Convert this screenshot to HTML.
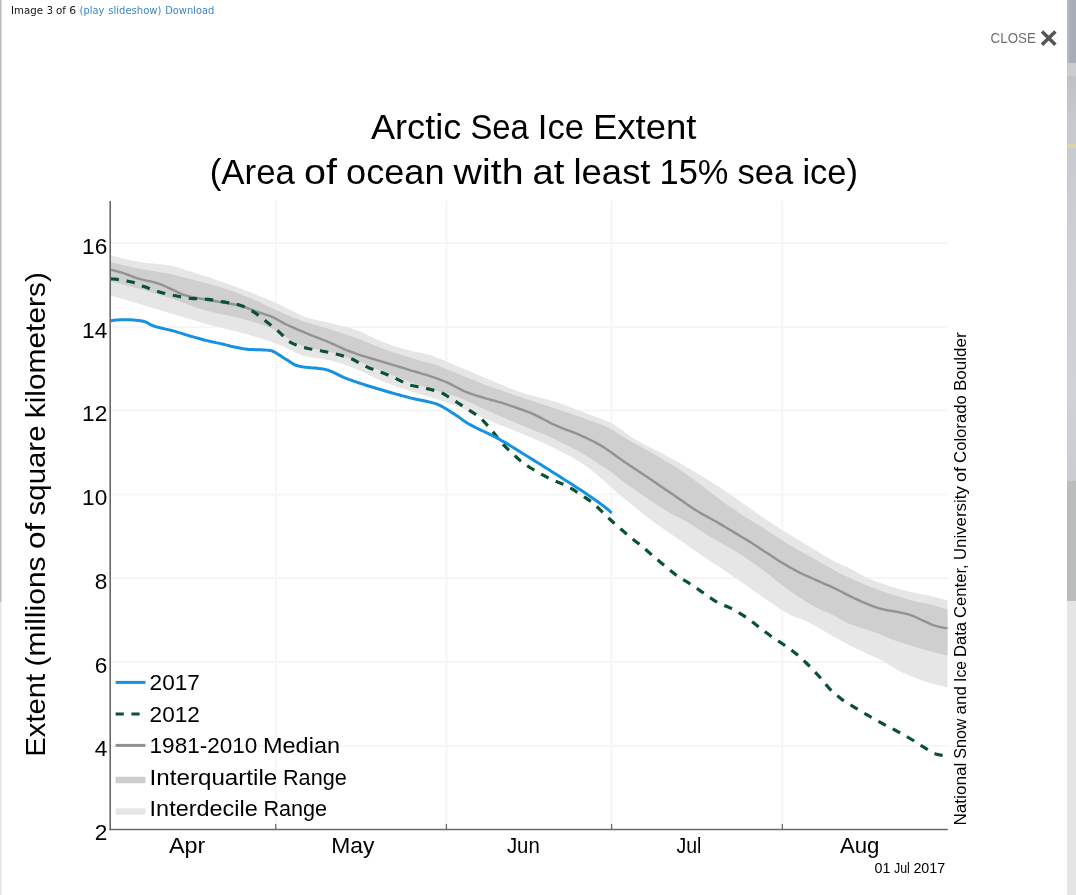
<!DOCTYPE html>
<html lang="en">
<head>
<meta charset="utf-8">
<title>Arctic Sea Ice Extent</title>
<style>
html,body{margin:0;padding:0;}
body{width:1076px;height:895px;position:relative;overflow:hidden;background:#fff;font-family:"Liberation Sans",sans-serif;}
#leftedge{position:absolute;left:0;top:0;width:2px;height:895px;background:linear-gradient(to right,#bcbcbc 0,#bcbcbc 1px,#fff 2px);}
#leftedge i{position:absolute;left:0;top:602px;width:2px;height:293px;background:linear-gradient(to right,#e4e4e4 0,#e4e4e4 1px,#fff 2px);}
#rightstrip{position:absolute;left:1067px;top:0;width:9px;height:895px;background:#e5e5e5;}
#rightstrip .a{position:absolute;left:0;top:0;width:9px;height:63px;background:linear-gradient(to right,#b4b8c0 0,#b4b8c0 2px,#a8acb6 3px);}
#rightstrip .y{position:absolute;left:0;top:144px;width:9px;height:4px;background:#ddd6ac;}
#rightstrip .b{position:absolute;left:0;top:63px;width:9px;height:418px;background:linear-gradient(#cbccce 0,#cbccce 13px,#bfc1c5 14px,#c6c9ce 60px,#cdd0d5 200px,#cfd2d7 330px,#c9ccd0 418px);}
#rightstrip .c{position:absolute;left:0;top:481px;width:9px;height:120px;background:#bbbcbc;}
#chart{position:absolute;left:0;top:0;}
</style>
</head>
<body>
<div id="leftedge"><i></i></div>
<div id="rightstrip"><div class="a"></div><div class="b"></div><div class="c"></div><div class="y"></div></div>
<svg id="chart" width="1076" height="895" viewBox="0 0 1076 895" font-family="'Liberation Sans',sans-serif">
<g stroke="#f6f6f6" stroke-width="2" fill="none"><line x1="110.2" x2="948.3" y1="745.7" y2="745.7"/><line x1="110.2" x2="948.3" y1="661.9" y2="661.9"/><line x1="110.2" x2="948.3" y1="578.1" y2="578.1"/><line x1="110.2" x2="948.3" y1="494.4" y2="494.4"/><line x1="110.2" x2="948.3" y1="410.6" y2="410.6"/><line x1="110.2" x2="948.3" y1="326.9" y2="326.9"/><line x1="110.2" x2="948.3" y1="243.1" y2="243.1"/><line x1="275.75" x2="275.75" y1="201.0" y2="829.5"/><line x1="446.4" x2="446.4" y1="201.0" y2="829.5"/><line x1="611.6" x2="611.6" y1="201.0" y2="829.5"/><line x1="782.3" x2="782.3" y1="201.0" y2="829.5"/></g>
<polygon points="110.5,255.1 113.5,256.0 116.5,256.8 119.5,257.6 122.5,258.4 125.5,259.1 128.5,259.8 131.5,260.5 134.5,261.1 137.5,261.6 140.5,262.1 143.5,262.5 146.5,262.9 149.5,263.2 152.5,263.5 155.5,263.8 158.5,264.2 161.5,264.5 164.5,264.8 167.5,265.3 170.5,265.7 173.5,266.3 176.5,267.1 179.5,267.9 182.5,268.9 185.5,269.9 188.5,270.9 191.5,271.8 194.5,272.8 197.5,273.7 200.5,274.7 203.5,275.7 206.5,276.6 209.5,277.6 212.5,278.6 215.5,279.7 218.5,280.7 221.5,281.7 224.5,282.8 227.5,283.8 230.5,284.9 233.5,286.0 236.5,287.1 239.5,288.2 242.5,289.3 245.5,290.5 248.5,291.6 251.5,292.8 254.5,294.0 257.5,295.2 260.5,296.4 263.5,297.6 266.5,298.9 269.5,300.1 272.5,301.4 275.5,302.7 278.5,304.0 281.5,305.4 284.5,306.9 287.5,308.4 290.5,310.0 293.5,311.6 296.5,313.1 299.5,314.6 302.5,315.9 305.5,316.9 308.5,317.9 311.5,318.7 314.5,319.5 317.5,320.2 320.5,320.9 323.5,321.6 326.5,322.3 329.5,323.0 332.5,323.8 335.5,324.5 338.5,325.2 341.5,325.9 344.5,326.7 347.5,327.5 350.5,328.3 353.5,329.2 356.5,330.2 359.5,331.3 362.5,332.6 365.5,334.1 368.5,335.5 371.5,337.0 374.5,338.5 377.5,339.8 380.5,341.1 383.5,342.2 386.5,343.3 389.5,344.4 392.5,345.4 395.5,346.4 398.5,347.4 401.5,348.3 404.5,349.2 407.5,350.0 410.5,350.7 413.5,351.4 416.5,352.0 419.5,352.7 422.5,353.3 425.5,354.0 428.5,354.8 431.5,355.6 434.5,356.6 437.5,357.7 440.5,358.9 443.5,360.1 446.5,361.4 449.5,362.7 452.5,364.0 455.5,365.2 458.5,366.5 461.5,367.7 464.5,369.0 467.5,370.3 470.5,371.6 473.5,372.9 476.5,374.2 479.5,375.5 482.5,376.8 485.5,378.0 488.5,379.3 491.5,380.6 494.5,381.8 497.5,383.1 500.5,384.4 503.5,385.6 506.5,386.9 509.5,388.1 512.5,389.3 515.5,390.4 518.5,391.5 521.5,392.5 524.5,393.5 527.5,394.4 530.5,395.2 533.5,396.0 536.5,396.8 539.5,397.5 542.5,398.3 545.5,399.0 548.5,399.8 551.5,400.7 554.5,401.6 557.5,402.5 560.5,403.5 563.5,404.6 566.5,405.7 569.5,406.8 572.5,408.0 575.5,409.2 578.5,410.4 581.5,411.6 584.5,412.7 587.5,413.9 590.5,415.0 593.5,416.1 596.5,417.1 599.5,418.2 602.5,419.3 605.5,420.4 608.5,421.7 611.5,423.1 614.5,424.8 617.5,426.8 620.5,429.0 623.5,431.3 626.5,433.6 629.5,435.8 632.5,437.8 635.5,439.6 638.5,441.3 641.5,442.9 644.5,444.5 647.5,446.0 650.5,447.5 653.5,449.0 656.5,450.5 659.5,452.1 662.5,453.6 665.5,455.2 668.5,456.8 671.5,458.5 674.5,460.1 677.5,461.8 680.5,463.5 683.5,465.2 686.5,466.9 689.5,468.7 692.5,470.4 695.5,472.2 698.5,474.0 701.5,475.9 704.5,477.7 707.5,479.6 710.5,481.5 713.5,483.4 716.5,485.4 719.5,487.3 722.5,489.3 725.5,491.3 728.5,493.3 731.5,495.3 734.5,497.4 737.5,499.4 740.5,501.5 743.5,503.7 746.5,505.8 749.5,508.0 752.5,510.1 755.5,512.3 758.5,514.4 761.5,516.5 764.5,518.6 767.5,520.6 770.5,522.6 773.5,524.6 776.5,526.6 779.5,528.5 782.5,530.4 785.5,532.2 788.5,534.1 791.5,535.8 794.5,537.6 797.5,539.4 800.5,541.1 803.5,542.9 806.5,544.8 809.5,546.6 812.5,548.4 815.5,550.2 818.5,552.0 821.5,553.9 824.5,555.7 827.5,557.6 830.5,559.3 833.5,561.0 836.5,562.5 839.5,563.8 842.5,565.1 845.5,566.4 848.5,567.8 851.5,569.3 854.5,570.9 857.5,572.7 860.5,574.4 863.5,576.1 866.5,577.6 869.5,578.9 872.5,580.1 875.5,581.2 878.5,582.3 881.5,583.3 884.5,584.4 887.5,585.4 890.5,586.4 893.5,587.4 896.5,588.3 899.5,589.1 902.5,589.9 905.5,590.7 908.5,591.4 911.5,592.1 914.5,592.8 917.5,593.4 920.5,594.0 923.5,594.6 926.5,595.2 929.5,595.8 932.5,596.5 935.5,597.2 938.5,597.9 941.5,598.7 944.5,599.5 947.5,600.3 947.5,687.4 944.5,686.8 941.5,686.1 938.5,685.3 935.5,684.5 932.5,683.7 929.5,682.8 926.5,681.9 923.5,680.9 920.5,679.8 917.5,678.7 914.5,677.6 911.5,676.4 908.5,675.1 905.5,673.8 902.5,672.4 899.5,670.9 896.5,669.4 893.5,667.7 890.5,665.8 887.5,663.9 884.5,662.0 881.5,660.3 878.5,658.8 875.5,657.4 872.5,656.0 869.5,654.7 866.5,653.4 863.5,652.1 860.5,650.6 857.5,649.2 854.5,647.7 851.5,646.2 848.5,644.7 845.5,643.1 842.5,641.5 839.5,639.8 836.5,638.1 833.5,636.4 830.5,634.7 827.5,633.0 824.5,631.2 821.5,629.5 818.5,627.8 815.5,626.1 812.5,624.5 809.5,622.8 806.5,621.2 803.5,619.9 800.5,618.8 797.5,618.1 794.5,617.0 791.5,615.6 788.5,614.0 785.5,612.2 782.5,610.4 779.5,608.6 776.5,606.6 773.5,604.6 770.5,602.5 767.5,600.3 764.5,598.2 761.5,596.2 758.5,594.1 755.5,592.0 752.5,589.9 749.5,587.8 746.5,585.6 743.5,583.5 740.5,581.4 737.5,579.4 734.5,577.2 731.5,575.1 728.5,573.0 725.5,571.0 722.5,569.0 719.5,567.0 716.5,565.1 713.5,563.2 710.5,561.3 707.5,559.3 704.5,557.3 701.5,555.2 698.5,553.1 695.5,551.0 692.5,548.8 689.5,546.7 686.5,544.6 683.5,542.6 680.5,540.6 677.5,538.6 674.5,536.6 671.5,534.5 668.5,532.5 665.5,530.4 662.5,528.2 659.5,526.1 656.5,523.9 653.5,521.7 650.5,519.5 647.5,517.3 644.5,514.9 641.5,512.5 638.5,510.0 635.5,507.5 632.5,505.2 629.5,502.8 626.5,500.5 623.5,498.1 620.5,495.6 617.5,493.0 614.5,490.4 611.5,487.7 608.5,485.0 605.5,482.3 602.5,479.6 599.5,476.9 596.5,474.3 593.5,471.8 590.5,469.4 587.5,467.1 584.5,465.0 581.5,463.0 578.5,461.2 575.5,459.4 572.5,457.6 569.5,456.0 566.5,454.4 563.5,452.8 560.5,451.3 557.5,449.8 554.5,448.3 551.5,446.8 548.5,445.4 545.5,444.0 542.5,442.6 539.5,441.2 536.5,439.9 533.5,438.6 530.5,437.3 527.5,436.0 524.5,434.8 521.5,433.5 518.5,432.2 515.5,431.0 512.5,429.8 509.5,428.7 506.5,427.5 503.5,426.3 500.5,425.2 497.5,424.0 494.5,422.8 491.5,421.6 488.5,420.3 485.5,419.0 482.5,417.6 479.5,416.2 476.5,414.8 473.5,413.4 470.5,412.0 467.5,410.5 464.5,409.2 461.5,407.8 458.5,406.6 455.5,405.4 452.5,404.3 449.5,403.2 446.5,402.2 443.5,401.3 440.5,400.3 437.5,399.4 434.5,398.5 431.5,397.5 428.5,396.6 425.5,395.7 422.5,394.8 419.5,393.9 416.5,393.0 413.5,392.1 410.5,391.2 407.5,390.3 404.5,389.3 401.5,388.3 398.5,387.3 395.5,386.2 392.5,385.1 389.5,384.0 386.5,382.8 383.5,381.7 380.5,380.5 377.5,379.2 374.5,377.8 371.5,376.3 368.5,374.8 365.5,373.3 362.5,371.9 359.5,370.5 356.5,369.2 353.5,368.1 350.5,366.9 347.5,365.8 344.5,364.7 341.5,363.6 338.5,362.6 335.5,361.7 332.5,360.9 329.5,360.2 326.5,359.7 323.5,359.2 320.5,358.7 317.5,358.3 314.5,357.9 311.5,357.5 308.5,356.9 305.5,356.3 302.5,355.4 299.5,354.3 296.5,352.9 293.5,351.4 290.5,349.9 287.5,348.4 284.5,347.1 281.5,345.8 278.5,344.6 275.5,343.4 272.5,342.3 269.5,341.2 266.5,340.2 263.5,339.3 260.5,338.3 257.5,337.4 254.5,336.5 251.5,335.7 248.5,334.8 245.5,334.0 242.5,333.2 239.5,332.3 236.5,331.5 233.5,330.8 230.5,330.0 227.5,329.3 224.5,328.5 221.5,327.8 218.5,327.1 215.5,326.4 212.5,325.6 209.5,324.9 206.5,324.1 203.5,323.2 200.5,322.4 197.5,321.5 194.5,320.6 191.5,319.7 188.5,318.8 185.5,317.9 182.5,317.0 179.5,316.1 176.5,315.2 173.5,314.3 170.5,313.3 167.5,312.4 164.5,311.5 161.5,310.6 158.5,309.7 155.5,308.8 152.5,307.9 149.5,307.0 146.5,306.1 143.5,305.2 140.5,304.3 137.5,303.4 134.5,302.5 131.5,301.6 128.5,300.7 125.5,299.8 122.5,298.9 119.5,298.1 116.5,297.2 113.5,296.3 110.5,295.4" fill="#e6e6e6"/><polygon points="110.5,261.8 113.5,262.6 116.5,263.4 119.5,264.1 122.5,264.9 125.5,265.6 128.5,266.3 131.5,267.0 134.5,267.7 137.5,268.3 140.5,268.9 143.5,269.5 146.5,270.0 149.5,270.5 152.5,271.0 155.5,271.5 158.5,271.9 161.5,272.4 164.5,273.0 167.5,273.5 170.5,274.1 173.5,274.7 176.5,275.4 179.5,276.2 182.5,276.9 185.5,277.7 188.5,278.5 191.5,279.3 194.5,280.1 197.5,280.8 200.5,281.6 203.5,282.4 206.5,283.2 209.5,284.0 212.5,284.9 215.5,285.7 218.5,286.6 221.5,287.5 224.5,288.5 227.5,289.5 230.5,290.5 233.5,291.6 236.5,292.7 239.5,293.8 242.5,295.0 245.5,296.2 248.5,297.4 251.5,298.6 254.5,299.9 257.5,301.1 260.5,302.5 263.5,303.9 266.5,305.4 269.5,306.9 272.5,308.3 275.5,309.8 278.5,311.1 281.5,312.4 284.5,313.7 287.5,315.0 290.5,316.2 293.5,317.5 296.5,318.6 299.5,319.8 302.5,320.9 305.5,321.9 308.5,322.9 311.5,323.9 314.5,324.8 317.5,325.6 320.5,326.5 323.5,327.3 326.5,328.2 329.5,329.1 332.5,330.1 335.5,331.1 338.5,332.0 341.5,333.0 344.5,334.0 347.5,335.0 350.5,336.1 353.5,337.1 356.5,338.2 359.5,339.3 362.5,340.5 365.5,341.8 368.5,343.0 371.5,344.2 374.5,345.5 377.5,346.6 380.5,347.8 383.5,348.8 386.5,349.9 389.5,350.9 392.5,351.9 395.5,352.9 398.5,353.9 401.5,354.9 404.5,355.8 407.5,356.8 410.5,357.7 413.5,358.7 416.5,359.6 419.5,360.4 422.5,361.2 425.5,361.9 428.5,362.6 431.5,363.5 434.5,364.5 437.5,365.6 440.5,366.7 443.5,367.9 446.5,369.1 449.5,370.4 452.5,371.6 455.5,372.8 458.5,374.0 461.5,375.2 464.5,376.4 467.5,377.6 470.5,378.9 473.5,380.1 476.5,381.3 479.5,382.5 482.5,383.7 485.5,384.9 488.5,386.0 491.5,387.1 494.5,388.2 497.5,389.3 500.5,390.3 503.5,391.4 506.5,392.4 509.5,393.5 512.5,394.5 515.5,395.5 518.5,396.5 521.5,397.5 524.5,398.5 527.5,399.5 530.5,400.5 533.5,401.5 536.5,402.4 539.5,403.4 542.5,404.3 545.5,405.3 548.5,406.3 551.5,407.2 554.5,408.2 557.5,409.2 560.5,410.3 563.5,411.3 566.5,412.3 569.5,413.3 572.5,414.4 575.5,415.4 578.5,416.5 581.5,417.6 584.5,418.6 587.5,419.7 590.5,420.8 593.5,421.8 596.5,422.9 599.5,423.9 602.5,425.0 605.5,426.2 608.5,427.5 611.5,429.0 614.5,430.9 617.5,433.0 620.5,435.1 623.5,437.0 626.5,438.8 629.5,440.5 632.5,442.2 635.5,443.9 638.5,445.6 641.5,447.3 644.5,448.9 647.5,450.5 650.5,452.2 653.5,453.8 656.5,455.5 659.5,457.3 662.5,459.1 665.5,460.9 668.5,462.7 671.5,464.6 674.5,466.4 677.5,468.4 680.5,470.3 683.5,472.3 686.5,474.4 689.5,476.5 692.5,478.7 695.5,480.9 698.5,483.1 701.5,485.3 704.5,487.6 707.5,489.9 710.5,492.2 713.5,494.6 716.5,496.9 719.5,499.2 722.5,501.4 725.5,503.6 728.5,505.7 731.5,507.8 734.5,509.8 737.5,511.8 740.5,513.8 743.5,515.8 746.5,517.7 749.5,519.6 752.5,521.4 755.5,523.3 758.5,525.2 761.5,527.0 764.5,528.9 767.5,530.9 770.5,532.8 773.5,534.8 776.5,536.7 779.5,538.7 782.5,540.6 785.5,542.5 788.5,544.4 791.5,546.2 794.5,547.9 797.5,549.6 800.5,551.3 803.5,553.0 806.5,554.6 809.5,556.3 812.5,557.9 815.5,559.6 818.5,561.3 821.5,563.0 824.5,564.7 827.5,566.4 830.5,568.1 833.5,569.8 836.5,571.4 839.5,572.9 842.5,574.4 845.5,575.9 848.5,577.3 851.5,578.7 854.5,580.0 857.5,581.4 860.5,582.6 863.5,583.9 866.5,585.2 869.5,586.4 872.5,587.6 875.5,588.7 878.5,589.9 881.5,590.9 884.5,592.0 887.5,593.0 890.5,593.9 893.5,594.9 896.5,595.8 899.5,596.8 902.5,597.7 905.5,598.7 908.5,599.6 911.5,600.4 914.5,601.2 917.5,601.9 920.5,602.4 923.5,603.0 926.5,603.6 929.5,604.2 932.5,604.9 935.5,605.7 938.5,606.6 941.5,607.5 944.5,608.5 947.5,609.5 947.5,655.6 944.5,654.9 941.5,654.2 938.5,653.4 935.5,652.7 932.5,651.9 929.5,651.0 926.5,650.2 923.5,649.3 920.5,648.4 917.5,647.4 914.5,646.5 911.5,645.6 908.5,644.8 905.5,643.9 902.5,643.0 899.5,642.0 896.5,641.0 893.5,639.9 890.5,638.7 887.5,637.4 884.5,636.1 881.5,634.9 878.5,633.8 875.5,632.8 872.5,631.8 869.5,630.7 866.5,629.7 863.5,628.7 860.5,627.7 857.5,626.7 854.5,625.7 851.5,624.7 848.5,623.5 845.5,622.2 842.5,620.6 839.5,618.9 836.5,617.1 833.5,615.5 830.5,614.0 827.5,612.6 824.5,611.2 821.5,609.9 818.5,608.5 815.5,607.0 812.5,605.3 809.5,603.6 806.5,601.9 803.5,600.0 800.5,598.1 797.5,596.2 794.5,594.1 791.5,592.1 788.5,590.0 785.5,587.8 782.5,585.5 779.5,583.1 776.5,580.7 773.5,578.3 770.5,575.8 767.5,573.5 764.5,571.2 761.5,569.0 758.5,566.8 755.5,564.6 752.5,562.5 749.5,560.4 746.5,558.3 743.5,556.3 740.5,554.4 737.5,552.6 734.5,550.8 731.5,549.1 728.5,547.5 725.5,545.8 722.5,544.1 719.5,542.3 716.5,540.5 713.5,538.8 710.5,537.0 707.5,535.1 704.5,533.2 701.5,531.3 698.5,529.2 695.5,527.2 692.5,525.2 689.5,523.3 686.5,521.5 683.5,519.9 680.5,518.4 677.5,516.9 674.5,515.4 671.5,513.8 668.5,512.1 665.5,510.3 662.5,508.4 659.5,506.5 656.5,504.6 653.5,502.6 650.5,500.5 647.5,498.5 644.5,496.4 641.5,494.4 638.5,492.3 635.5,490.2 632.5,488.1 629.5,486.0 626.5,483.9 623.5,481.7 620.5,479.4 617.5,477.1 614.5,474.7 611.5,472.4 608.5,470.2 605.5,468.2 602.5,466.3 599.5,464.4 596.5,462.5 593.5,460.5 590.5,458.5 587.5,456.5 584.5,454.7 581.5,453.0 578.5,451.3 575.5,449.6 572.5,448.0 569.5,446.4 566.5,444.9 563.5,443.4 560.5,441.9 557.5,440.5 554.5,439.1 551.5,437.7 548.5,436.4 545.5,435.1 542.5,433.8 539.5,432.6 536.5,431.4 533.5,430.2 530.5,428.9 527.5,427.7 524.5,426.5 521.5,425.2 518.5,423.9 515.5,422.6 512.5,421.4 509.5,420.1 506.5,418.8 503.5,417.6 500.5,416.3 497.5,415.0 494.5,413.7 491.5,412.4 488.5,411.1 485.5,409.8 482.5,408.4 479.5,406.9 476.5,405.5 473.5,404.0 470.5,402.6 467.5,401.2 464.5,399.8 461.5,398.5 458.5,397.3 455.5,396.2 452.5,395.2 449.5,394.2 446.5,393.3 443.5,392.5 440.5,391.7 437.5,390.9 434.5,390.0 431.5,389.1 428.5,388.2 425.5,387.2 422.5,386.3 419.5,385.3 416.5,384.3 413.5,383.3 410.5,382.2 407.5,381.2 404.5,380.1 401.5,378.9 398.5,377.7 395.5,376.5 392.5,375.3 389.5,374.0 386.5,372.8 383.5,371.6 380.5,370.4 377.5,369.2 374.5,367.9 371.5,366.7 368.5,365.5 365.5,364.3 362.5,363.1 359.5,361.9 356.5,360.8 353.5,359.7 350.5,358.6 347.5,357.5 344.5,356.4 341.5,355.4 338.5,354.4 335.5,353.4 332.5,352.6 329.5,351.8 326.5,351.2 323.5,350.6 320.5,350.1 317.5,349.6 314.5,349.1 311.5,348.5 308.5,347.9 305.5,347.1 302.5,346.1 299.5,344.8 296.5,343.2 293.5,341.5 290.5,339.7 287.5,337.9 284.5,336.1 281.5,334.2 278.5,332.3 275.5,330.4 272.5,328.9 269.5,327.6 266.5,326.4 263.5,325.3 260.5,324.2 257.5,323.2 254.5,322.3 251.5,321.4 248.5,320.6 245.5,319.7 242.5,318.9 239.5,318.1 236.5,317.4 233.5,316.6 230.5,316.0 227.5,315.3 224.5,314.7 221.5,314.1 218.5,313.5 215.5,312.8 212.5,312.2 209.5,311.4 206.5,310.7 203.5,309.8 200.5,308.9 197.5,307.9 194.5,306.9 191.5,305.8 188.5,304.7 185.5,303.5 182.5,302.4 179.5,301.3 176.5,300.2 173.5,299.2 170.5,298.2 167.5,297.3 164.5,296.3 161.5,295.4 158.5,294.5 155.5,293.6 152.5,292.7 149.5,291.9 146.5,291.0 143.5,290.1 140.5,289.3 137.5,288.4 134.5,287.6 131.5,286.7 128.5,285.9 125.5,285.1 122.5,284.3 119.5,283.5 116.5,282.7 113.5,281.9 110.5,281.1" fill="#cfcfcf"/>
<polyline points="110.5,269.7 113.5,270.4 116.5,271.2 119.5,272.0 122.5,272.9 125.5,273.9 128.5,275.0 131.5,276.2 134.5,277.3 137.5,278.3 140.5,279.2 143.5,279.9 146.5,280.6 149.5,281.2 152.5,281.9 155.5,282.7 158.5,283.6 161.5,284.7 164.5,286.0 167.5,287.4 170.5,288.8 173.5,290.2 176.5,291.6 179.5,293.1 182.5,294.4 185.5,295.4 188.5,296.2 191.5,296.9 194.5,297.5 197.5,298.1 200.5,298.6 203.5,299.1 206.5,299.7 209.5,300.2 212.5,300.7 215.5,301.2 218.5,301.7 221.5,302.3 224.5,302.8 227.5,303.3 230.5,303.7 233.5,304.3 236.5,304.8 239.5,305.5 242.5,306.4 245.5,307.4 248.5,308.5 251.5,309.7 254.5,310.8 257.5,311.9 260.5,312.9 263.5,313.8 266.5,314.8 269.5,315.9 272.5,317.1 275.5,318.5 278.5,320.2 281.5,321.9 284.5,323.6 287.5,325.0 290.5,326.4 293.5,327.7 296.5,329.1 299.5,330.3 302.5,331.6 305.5,332.9 308.5,334.1 311.5,335.3 314.5,336.5 317.5,337.7 320.5,338.8 323.5,340.0 326.5,341.2 329.5,342.5 332.5,343.8 335.5,345.1 338.5,346.5 341.5,347.9 344.5,349.3 347.5,350.5 350.5,351.6 353.5,352.7 356.5,353.8 359.5,354.8 362.5,355.8 365.5,356.7 368.5,357.7 371.5,358.5 374.5,359.4 377.5,360.3 380.5,361.2 383.5,362.1 386.5,363.0 389.5,363.9 392.5,364.8 395.5,365.7 398.5,366.6 401.5,367.5 404.5,368.4 407.5,369.3 410.5,370.3 413.5,371.1 416.5,372.0 419.5,372.9 422.5,373.8 425.5,374.7 428.5,375.6 431.5,376.6 434.5,377.7 437.5,378.7 440.5,379.8 443.5,381.0 446.5,382.2 449.5,383.6 452.5,385.1 455.5,386.7 458.5,388.3 461.5,389.9 464.5,391.3 467.5,392.5 470.5,393.6 473.5,394.6 476.5,395.6 479.5,396.5 482.5,397.4 485.5,398.3 488.5,399.2 491.5,400.0 494.5,400.7 497.5,401.6 500.5,402.4 503.5,403.3 506.5,404.3 509.5,405.3 512.5,406.3 515.5,407.4 518.5,408.5 521.5,409.5 524.5,410.6 527.5,411.7 530.5,412.8 533.5,414.2 536.5,415.6 539.5,417.1 542.5,418.7 545.5,420.3 548.5,421.9 551.5,423.5 554.5,424.9 557.5,426.2 560.5,427.5 563.5,428.6 566.5,429.8 569.5,430.9 572.5,432.0 575.5,433.2 578.5,434.4 581.5,435.8 584.5,437.1 587.5,438.5 590.5,440.0 593.5,441.5 596.5,443.1 599.5,444.8 602.5,446.5 605.5,448.4 608.5,450.5 611.5,452.6 614.5,454.8 617.5,457.0 620.5,459.1 623.5,461.2 626.5,463.2 629.5,465.2 632.5,467.2 635.5,469.2 638.5,471.2 641.5,473.3 644.5,475.3 647.5,477.3 650.5,479.3 653.5,481.3 656.5,483.3 659.5,485.4 662.5,487.4 665.5,489.4 668.5,491.4 671.5,493.5 674.5,495.6 677.5,497.7 680.5,499.8 683.5,501.8 686.5,503.9 689.5,506.0 692.5,508.0 695.5,509.9 698.5,511.8 701.5,513.6 704.5,515.3 707.5,516.9 710.5,518.5 713.5,520.2 716.5,521.8 719.5,523.6 722.5,525.4 725.5,527.2 728.5,529.0 731.5,530.8 734.5,532.6 737.5,534.4 740.5,536.2 743.5,538.0 746.5,539.8 749.5,541.6 752.5,543.5 755.5,545.4 758.5,547.4 761.5,549.4 764.5,551.4 767.5,553.3 770.5,555.3 773.5,557.3 776.5,559.2 779.5,561.2 782.5,563.0 785.5,564.8 788.5,566.6 791.5,568.3 794.5,569.9 797.5,571.5 800.5,573.1 803.5,574.5 806.5,575.9 809.5,577.2 812.5,578.5 815.5,579.8 818.5,581.1 821.5,582.5 824.5,583.8 827.5,585.1 830.5,586.4 833.5,587.8 836.5,589.3 839.5,590.8 842.5,592.3 845.5,593.9 848.5,595.4 851.5,596.8 854.5,598.3 857.5,599.7 860.5,601.1 863.5,602.4 866.5,603.7 869.5,604.9 872.5,606.1 875.5,607.2 878.5,608.2 881.5,609.0 884.5,609.6 887.5,610.2 890.5,610.7 893.5,611.3 896.5,611.8 899.5,612.4 902.5,613.0 905.5,613.6 908.5,614.4 911.5,615.3 914.5,616.6 917.5,618.0 920.5,619.5 923.5,620.8 926.5,622.2 929.5,623.6 932.5,624.8 935.5,625.8 938.5,626.6 941.5,627.3 944.5,627.9 947.5,628.3" fill="none" stroke="#929292" stroke-width="2.4" stroke-linejoin="round"/><polyline points="110.5,278.9 113.0,279.0 115.5,279.2 118.0,279.5 120.5,279.8 123.0,280.2 125.5,280.7 128.0,281.2 130.5,281.7 133.0,282.3 135.5,283.2 138.0,284.2 140.5,285.2 143.0,286.2 145.5,287.1 148.0,288.0 150.5,289.0 153.0,289.9 155.5,290.8 158.0,291.6 160.5,292.4 163.0,293.0 165.5,293.6 168.0,294.2 170.5,294.7 173.0,295.2 175.5,295.7 178.0,296.2 180.5,296.8 183.0,297.3 185.5,297.8 188.0,298.1 190.5,298.4 193.0,298.6 195.5,298.7 198.0,298.8 200.5,298.9 203.0,299.0 205.5,299.1 208.0,299.3 210.5,299.6 213.0,300.0 215.5,300.4 218.0,300.9 220.5,301.4 223.0,301.8 225.5,302.2 228.0,302.7 230.5,303.1 233.0,303.5 235.5,304.0 238.0,304.6 240.5,305.4 243.0,306.3 245.5,307.5 248.0,308.8 250.6,310.2 253.1,311.6 255.6,313.3 258.1,315.1 260.6,317.0 263.1,319.0 265.6,321.0 268.1,323.0 270.6,325.0 273.1,327.0 275.6,329.0 278.1,331.1 280.6,333.4 283.1,335.9 285.6,338.4 288.1,340.7 290.6,342.3 293.1,343.6 295.6,344.7 298.1,345.7 300.6,346.5 303.1,347.3 305.6,347.9 308.1,348.5 310.6,349.0 313.1,349.4 315.6,349.9 318.1,350.3 320.6,350.8 323.1,351.3 325.6,351.7 328.1,352.2 330.6,352.7 333.1,353.3 335.6,353.9 338.1,354.5 340.6,355.2 343.1,355.9 345.6,356.7 348.1,357.5 350.6,358.5 353.1,359.5 355.6,360.8 358.1,362.3 360.6,363.7 363.1,365.1 365.6,366.3 368.1,367.4 370.6,368.4 373.1,369.3 375.6,370.2 378.1,371.1 380.6,372.1 383.1,373.1 385.6,374.1 388.1,375.1 390.6,376.2 393.1,377.3 395.6,378.4 398.1,379.6 400.6,380.9 403.1,382.2 405.6,383.4 408.1,384.4 410.6,385.2 413.1,385.8 415.6,386.3 418.1,386.8 420.6,387.2 423.1,387.8 425.6,388.4 428.1,388.9 430.6,389.5 433.1,390.1 435.6,390.8 438.1,391.5 440.6,392.4 443.1,393.6 445.6,395.0 448.1,396.6 450.6,398.2 453.1,399.9 455.6,401.4 458.1,403.0 460.6,404.6 463.1,406.2 465.6,407.9 468.1,409.5 470.6,411.1 473.1,412.7 475.6,414.4 478.1,416.2 480.6,418.3 483.1,420.6 485.6,423.3 488.1,426.2 490.6,429.1 493.1,432.1 495.6,435.3 498.1,438.5 500.6,441.6 503.1,444.3 505.6,446.9 508.1,449.4 510.6,451.7 513.1,454.1 515.6,456.4 518.1,458.7 520.6,460.9 523.1,462.9 525.6,464.7 528.2,466.4 530.7,468.0 533.2,469.5 535.7,471.0 538.2,472.4 540.7,473.8 543.2,475.2 545.7,476.5 548.2,477.8 550.7,479.1 553.2,480.2 555.7,481.3 558.2,482.3 560.7,483.2 563.2,484.2 565.7,485.3 568.2,486.6 570.7,488.1 573.2,489.6 575.7,491.3 578.2,492.9 580.7,494.6 583.2,496.2 585.7,497.9 588.2,499.6 590.7,501.4 593.2,503.3 595.7,505.5 598.2,507.9 600.7,510.4 603.2,512.8 605.7,515.2 608.2,517.6 610.7,520.0 613.2,522.3 615.7,524.6 618.2,526.8 620.7,529.0 623.2,531.1 625.7,533.3 628.2,535.3 630.7,537.4 633.2,539.4 635.7,541.4 638.2,543.3 640.7,545.4 643.2,547.5 645.7,549.6 648.2,551.7 650.7,553.9 653.2,556.0 655.7,558.2 658.2,560.3 660.7,562.4 663.2,564.5 665.7,566.6 668.2,568.7 670.7,570.7 673.2,572.7 675.7,574.7 678.2,576.5 680.7,578.1 683.2,579.7 685.7,581.2 688.2,582.7 690.7,584.2 693.2,585.9 695.7,587.6 698.2,589.3 700.7,591.1 703.2,592.8 705.7,594.5 708.2,596.3 710.7,598.1 713.2,599.8 715.7,601.4 718.2,602.7 720.7,603.9 723.2,605.0 725.7,606.0 728.2,607.0 730.7,608.1 733.2,609.4 735.7,610.8 738.2,612.2 740.7,613.8 743.2,615.4 745.7,617.1 748.2,618.8 750.7,620.7 753.2,622.6 755.7,624.6 758.2,626.5 760.7,628.4 763.2,630.3 765.7,632.2 768.2,634.1 770.7,636.0 773.2,637.7 775.7,639.4 778.2,641.0 780.7,642.6 783.2,644.3 785.7,646.0 788.2,647.8 790.7,649.6 793.2,651.5 795.7,653.4 798.2,655.5 800.7,657.7 803.2,660.1 805.8,662.5 808.3,665.0 810.8,667.5 813.3,670.1 815.8,672.8 818.3,675.5 820.8,678.3 823.3,681.3 825.8,684.4 828.3,687.3 830.8,690.0 833.3,692.3 835.8,694.6 838.3,696.6 840.8,698.6 843.3,700.4 845.8,702.1 848.3,703.6 850.8,705.1 853.3,706.6 855.8,708.1 858.3,709.6 860.8,711.1 863.3,712.6 865.8,714.1 868.3,715.5 870.8,717.0 873.3,718.4 875.8,719.8 878.3,721.2 880.8,722.6 883.3,724.0 885.8,725.3 888.3,726.6 890.8,727.9 893.3,729.2 895.8,730.5 898.3,731.8 900.8,733.2 903.3,734.6 905.8,736.0 908.3,737.5 910.8,739.0 913.3,740.5 915.8,742.1 918.3,743.7 920.8,745.3 923.3,746.8 925.8,748.4 928.3,750.1 930.8,751.7 933.3,753.1 935.8,754.0 938.3,754.6 940.8,755.1 943.3,755.3" fill="none" stroke="#0a5230" stroke-width="3.2" stroke-dasharray="8.4,7.79" stroke-linejoin="round"/><polyline points="110.5,320.7 113.0,320.4 115.5,320.1 118.0,320.0 120.5,319.8 123.0,319.7 125.5,319.7 128.0,319.7 130.5,319.8 133.1,320.0 135.6,320.2 138.1,320.5 140.6,320.8 143.1,321.2 145.6,321.9 148.1,323.2 150.6,324.6 153.1,325.8 155.6,326.6 158.1,327.3 160.6,327.9 163.1,328.5 165.6,329.1 168.1,329.6 170.6,330.2 173.2,330.9 175.7,331.6 178.2,332.4 180.7,333.1 183.2,333.9 185.7,334.7 188.2,335.4 190.7,336.2 193.2,336.9 195.7,337.6 198.2,338.3 200.7,339.0 203.2,339.7 205.7,340.4 208.2,340.9 210.7,341.5 213.2,342.0 215.8,342.6 218.3,343.1 220.8,343.6 223.3,344.2 225.8,344.9 228.3,345.5 230.8,346.2 233.3,346.8 235.8,347.3 238.3,347.8 240.8,348.3 243.3,348.8 245.8,349.1 248.3,349.4 250.8,349.5 253.3,349.6 255.8,349.7 258.4,349.8 260.9,349.8 263.4,349.9 265.9,350.1 268.4,350.2 270.9,350.6 273.4,351.5 275.9,352.8 278.4,354.4 280.9,356.1 283.4,357.8 285.9,359.2 288.4,360.8 290.9,362.5 293.4,364.1 295.9,365.3 298.5,366.0 301.0,366.5 303.5,366.9 306.0,367.2 308.5,367.4 311.0,367.7 313.5,367.9 316.0,368.1 318.5,368.4 321.0,368.7 323.5,369.1 326.0,369.6 328.5,370.3 331.0,371.3 333.5,372.4 336.0,373.6 338.5,374.8 341.1,376.1 343.6,377.3 346.1,378.3 348.6,379.3 351.1,380.2 353.6,381.1 356.1,381.9 358.6,382.8 361.1,383.6 363.6,384.4 366.1,385.2 368.6,386.0 371.1,386.7 373.6,387.5 376.1,388.3 378.6,389.0 381.1,389.8 383.7,390.5 386.2,391.2 388.7,392.0 391.2,392.7 393.7,393.4 396.2,394.1 398.7,394.8 401.2,395.5 403.7,396.1 406.2,396.8 408.7,397.4 411.2,398.1 413.7,398.7 416.2,399.3 418.7,399.8 421.2,400.3 423.8,400.8 426.3,401.3 428.8,401.9 431.3,402.5 433.8,403.1 436.3,403.9 438.8,404.9 441.3,406.1 443.8,407.5 446.3,409.0 448.8,410.5 451.3,412.2 453.8,413.8 456.3,415.4 458.8,417.1 461.3,418.9 463.8,420.7 466.4,422.4 468.9,424.0 471.4,425.4 473.9,426.7 476.4,428.0 478.9,429.2 481.4,430.4 483.9,431.5 486.4,432.7 488.9,433.9 491.4,435.1 493.9,436.3 496.4,437.6 498.9,439.0 501.4,440.5 503.9,441.9 506.4,443.4 509.0,444.9 511.5,446.5 514.0,448.0 516.5,449.6 519.0,451.1 521.5,452.7 524.0,454.2 526.5,455.8 529.0,457.3 531.5,458.9 534.0,460.4 536.5,462.0 539.0,463.5 541.5,465.1 544.0,466.7 546.5,468.3 549.1,469.8 551.6,471.4 554.1,473.0 556.6,474.6 559.1,476.2 561.6,477.8 564.1,479.4 566.6,481.0 569.1,482.5 571.6,484.1 574.1,485.7 576.6,487.4 579.1,489.0 581.6,490.6 584.1,492.3 586.6,494.0 589.1,495.7 591.7,497.5 594.2,499.2 596.7,501.0 599.2,502.8 601.7,504.6 604.2,506.5 606.7,508.5 609.2,510.7 611.7,513.0" fill="none" stroke="#1791e2" stroke-width="3" stroke-linejoin="round"/>
<g stroke="#686868" stroke-width="1.6" fill="none"><line x1="110.2" x2="110.2" y1="201.0" y2="830.3"/><line x1="109.4" x2="947.8" y1="829.5" y2="829.5"/><line x1="275.75" x2="275.75" y1="829.5" y2="824.0" stroke-width="1.2"/><line x1="446.4" x2="446.4" y1="829.5" y2="824.0" stroke-width="1.2"/><line x1="611.6" x2="611.6" y1="829.5" y2="824.0" stroke-width="1.2"/><line x1="782.3" x2="782.3" y1="829.5" y2="824.0" stroke-width="1.2"/></g><line x1="115.6" x2="145.5" y1="682.4" y2="682.4" stroke="#1791e2" stroke-width="3"/><line x1="115.6" x2="145.5" y1="714.0" y2="714.0" stroke="#0a5230" stroke-width="3.2" stroke-dasharray="8.2,7.6"/><line x1="115.6" x2="145.5" y1="745.4" y2="745.4" stroke="#909090" stroke-width="3"/><line x1="115.6" x2="145.5" y1="780.0" y2="780.0" stroke="#cecece" stroke-width="6.5"/><line x1="115.6" x2="145.5" y1="811.6" y2="811.6" stroke="#e6e6e6" stroke-width="6.5"/>
<text y="138.5" font-size="35" fill="#000"><tspan x="371.0" textLength="90.3" lengthAdjust="spacingAndGlyphs">Arctic</tspan> <tspan x="470.4" textLength="58.3" lengthAdjust="spacingAndGlyphs">Sea</tspan> <tspan x="537.8" textLength="46.1" lengthAdjust="spacingAndGlyphs">Ice</tspan> <tspan x="592.9" textLength="103.6" lengthAdjust="spacingAndGlyphs">Extent</tspan></text><text y="183.6" font-size="35" fill="#000"><tspan x="209.7" textLength="85.2" lengthAdjust="spacingAndGlyphs">(Area</tspan> <tspan x="304.0" textLength="33.0" lengthAdjust="spacingAndGlyphs">of</tspan> <tspan x="346.1" textLength="98.4" lengthAdjust="spacingAndGlyphs">ocean</tspan> <tspan x="453.6" textLength="69.9" lengthAdjust="spacingAndGlyphs">with</tspan> <tspan x="532.6" textLength="31.8" lengthAdjust="spacingAndGlyphs">at</tspan> <tspan x="573.5" textLength="77.0" lengthAdjust="spacingAndGlyphs">least</tspan> <tspan x="659.6" textLength="68.8" lengthAdjust="spacingAndGlyphs">15%</tspan> <tspan x="737.5" textLength="55.8" lengthAdjust="spacingAndGlyphs">sea</tspan> <tspan x="802.4" textLength="55.5" lengthAdjust="spacingAndGlyphs">ice)</tspan></text><text y="840.1" font-size="22" fill="#000"><tspan x="94.7" textLength="12.6" lengthAdjust="spacingAndGlyphs">2</tspan></text><text y="756.4" font-size="22" fill="#000"><tspan x="94.7" textLength="12.6" lengthAdjust="spacingAndGlyphs">4</tspan></text><text y="672.6" font-size="22" fill="#000"><tspan x="94.7" textLength="12.6" lengthAdjust="spacingAndGlyphs">6</tspan></text><text y="588.8" font-size="22" fill="#000"><tspan x="94.7" textLength="12.6" lengthAdjust="spacingAndGlyphs">8</tspan></text><text y="505.1" font-size="22" fill="#000"><tspan x="82.1" textLength="25.2" lengthAdjust="spacingAndGlyphs">10</tspan></text><text y="421.3" font-size="22" fill="#000"><tspan x="82.1" textLength="25.2" lengthAdjust="spacingAndGlyphs">12</tspan></text><text y="337.6" font-size="22" fill="#000"><tspan x="82.1" textLength="25.2" lengthAdjust="spacingAndGlyphs">14</tspan></text><text y="253.8" font-size="22" fill="#000"><tspan x="82.1" textLength="25.2" lengthAdjust="spacingAndGlyphs">16</tspan></text><text y="852.8" font-size="22" fill="#000"><tspan x="169.0" textLength="36.4" lengthAdjust="spacingAndGlyphs">Apr</tspan></text><text y="852.8" font-size="22" fill="#000"><tspan x="331.3" textLength="43.2" lengthAdjust="spacingAndGlyphs">May</tspan></text><text y="852.8" font-size="22" fill="#000"><tspan x="506.9" textLength="32.9" lengthAdjust="spacingAndGlyphs">Jun</tspan></text><text y="852.8" font-size="22" fill="#000"><tspan x="676.5" textLength="24.9" lengthAdjust="spacingAndGlyphs">Jul</tspan></text><text y="852.8" font-size="22" fill="#000"><tspan x="839.9" textLength="39.5" lengthAdjust="spacingAndGlyphs">Aug</tspan></text><text y="690.2" font-size="22" fill="#000"><tspan x="149.6" textLength="50.3" lengthAdjust="spacingAndGlyphs">2017</tspan></text><text y="721.7" font-size="22" fill="#000"><tspan x="149.6" textLength="50.3" lengthAdjust="spacingAndGlyphs">2012</tspan></text><text y="753.2" font-size="22" fill="#000"><tspan x="149.6" textLength="107.7" lengthAdjust="spacingAndGlyphs">1981-2010</tspan> <tspan x="263.0" textLength="77.0" lengthAdjust="spacingAndGlyphs">Median</tspan></text><text y="784.5" font-size="22" fill="#000"><tspan x="149.6" textLength="127.7" lengthAdjust="spacingAndGlyphs">Interquartile</tspan> <tspan x="283.0" textLength="63.7" lengthAdjust="spacingAndGlyphs">Range</tspan></text><text y="815.9" font-size="22" fill="#000"><tspan x="149.6" textLength="108.1" lengthAdjust="spacingAndGlyphs">Interdecile</tspan> <tspan x="263.4" textLength="63.7" lengthAdjust="spacingAndGlyphs">Range</tspan></text><text y="0" font-size="28" fill="#000" transform="translate(45.2,514.4) rotate(-90)"><tspan x="-242.3" textLength="82.9" lengthAdjust="spacingAndGlyphs">Extent</tspan> <tspan x="-152.1" textLength="110.1" lengthAdjust="spacingAndGlyphs">(millions</tspan> <tspan x="-34.7" textLength="26.4" lengthAdjust="spacingAndGlyphs">of</tspan> <tspan x="-1.0" textLength="89.9" lengthAdjust="spacingAndGlyphs">square</tspan> <tspan x="96.1" textLength="146.2" lengthAdjust="spacingAndGlyphs">kilometers)</tspan></text><text y="0" font-size="15.9" fill="#000" transform="translate(966,578.9) rotate(-90)"><tspan x="-246.6" textLength="62.7" lengthAdjust="spacingAndGlyphs">National</tspan> <tspan x="-179.8" textLength="40.1" lengthAdjust="spacingAndGlyphs">Snow</tspan> <tspan x="-135.5" textLength="28.3" lengthAdjust="spacingAndGlyphs">and</tspan> <tspan x="-103.0" textLength="20.9" lengthAdjust="spacingAndGlyphs">Ice</tspan> <tspan x="-78.0" textLength="34.9" lengthAdjust="spacingAndGlyphs">Data</tspan> <tspan x="-39.0" textLength="53.6" lengthAdjust="spacingAndGlyphs">Center,</tspan> <tspan x="18.8" textLength="74.0" lengthAdjust="spacingAndGlyphs">University</tspan> <tspan x="96.9" textLength="15.0" lengthAdjust="spacingAndGlyphs">of</tspan> <tspan x="116.0" textLength="67.6" lengthAdjust="spacingAndGlyphs">Colorado</tspan> <tspan x="187.8" textLength="58.8" lengthAdjust="spacingAndGlyphs">Boulder</tspan></text><text y="873.1" font-size="13.9" fill="#000"><tspan x="874.5" textLength="15.9" lengthAdjust="spacingAndGlyphs">01</tspan> <tspan x="894.0" textLength="15.8" lengthAdjust="spacingAndGlyphs">Jul</tspan> <tspan x="913.4" textLength="31.8" lengthAdjust="spacingAndGlyphs">2017</tspan></text>
<text y="13.9" font-size="10" font-family="'DejaVu Sans','Liberation Sans',sans-serif"><tspan x="11.0" textLength="31.9" lengthAdjust="spacingAndGlyphs" fill="#151515">Image</tspan> <tspan x="46.8" textLength="6.3" lengthAdjust="spacingAndGlyphs" fill="#151515">3</tspan> <tspan x="56.0" textLength="9.9" lengthAdjust="spacingAndGlyphs" fill="#151515">of</tspan> <tspan x="69.3" textLength="6.9" lengthAdjust="spacingAndGlyphs" fill="#151515">6</tspan> <tspan x="79.6" textLength="24.7" lengthAdjust="spacingAndGlyphs" fill="#3a87c8">(play</tspan> <tspan x="108.3" textLength="53.1" lengthAdjust="spacingAndGlyphs" fill="#3a87c8">slideshow)</tspan> <tspan x="165.2" textLength="49.1" lengthAdjust="spacingAndGlyphs" fill="#3a87c8">Download</tspan></text><text x="990.6" y="42.8" font-size="14.3" fill="#707070" textLength="45.2" lengthAdjust="spacingAndGlyphs">CLOSE</text><path d="M1042 31.5 L1055.4 44.7 M1055.4 31.5 L1042 44.7" stroke="#555" stroke-width="3.5" fill="none"/>
</svg>
</body>
</html>
